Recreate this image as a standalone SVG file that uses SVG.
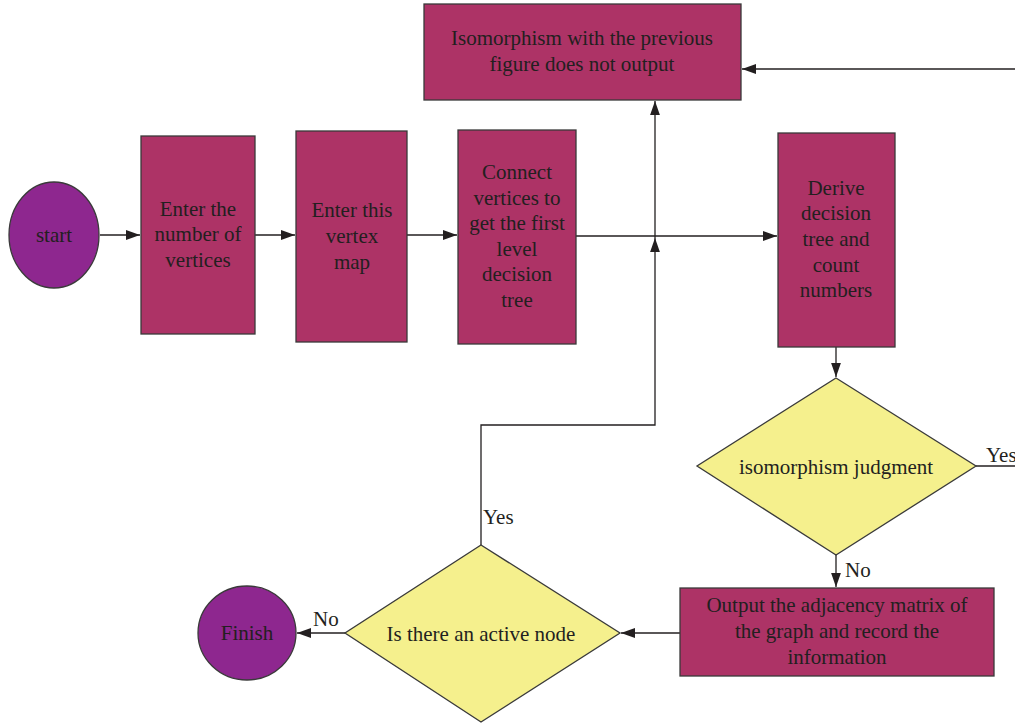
<svg xmlns="http://www.w3.org/2000/svg" width="1015" height="725" viewBox="0 0 1015 725">
<defs>
<style>
.box{fill:#AD3366;stroke:#3a3a3a;stroke-width:1.3}
.ell{fill:#8E278F;stroke:#3a3a3a;stroke-width:1.3}
.dia{fill:#F5F08D;stroke:#3a3a3a;stroke-width:1.3}
text{font-family:"Liberation Serif","DejaVu Serif",serif;font-size:21px;fill:#231F20;text-anchor:middle}
.lbl{text-anchor:start}
.c{fill:none;stroke:#231F20;stroke-width:1.3}
</style>
<marker id="ah" viewBox="0 0 10 10" refX="10" refY="5" markerWidth="14" markerHeight="14" markerUnits="userSpaceOnUse" orient="auto">
<path d="M0,1.5 L10,5 L0,8.5 Z" fill="#231F20"/>
</marker>
</defs>
<rect width="1015" height="725" fill="#fff"/>
<g id="connectors">
<line class="c" x1="100" y1="235" x2="140" y2="235" marker-end="url(#ah)"/>
<line class="c" x1="255" y1="235" x2="295" y2="235" marker-end="url(#ah)"/>
<line class="c" x1="407" y1="235" x2="457" y2="235" marker-end="url(#ah)"/>
<line class="c" x1="576" y1="236" x2="777" y2="236" marker-end="url(#ah)"/>
<polyline class="c" points="481,545 481,425 655,425 655,238" marker-end="url(#ah)"/>
<line class="c" x1="655" y1="238" x2="655" y2="101" marker-end="url(#ah)"/>
<line class="c" x1="836" y1="347" x2="836" y2="377" marker-end="url(#ah)"/>
<polyline class="c" points="976,466 1016,466"/>
<line class="c" x1="1016" y1="69" x2="742" y2="69" marker-end="url(#ah)"/>
<line class="c" x1="836" y1="555" x2="836" y2="587" marker-end="url(#ah)"/>
<line class="c" x1="680" y1="633" x2="621" y2="633" marker-end="url(#ah)"/>
<line class="c" x1="345" y1="633" x2="297" y2="633" marker-end="url(#ah)"/>
<text class="lbl" x="483" y="524">Yes</text>
<text class="lbl" x="986" y="462">Yes</text>
<text class="lbl" x="845" y="577">No</text>
<text class="lbl" x="313" y="626">No</text>
</g>
<g id="start">
<ellipse class="ell" cx="54" cy="235" rx="45" ry="53"/>
<text x="54" y="242">start</text>
</g>
<g id="enter-number">
<rect class="box" x="141" y="136" width="114" height="198"/>
<text x="198" y="216">Enter the</text>
<text x="198" y="241">number of</text>
<text x="198" y="267">vertices</text>
</g>
<g id="enter-map">
<rect class="box" x="296" y="131" width="111" height="211"/>
<text x="352" y="217">Enter this</text>
<text x="352" y="243">vertex</text>
<text x="352" y="269">map</text>
</g>
<g id="connect">
<rect class="box" x="458" y="130" width="118" height="214"/>
<text x="517" y="179">Connect</text>
<text x="517" y="205">vertices to</text>
<text x="517" y="230">get the first</text>
<text x="517" y="256">level</text>
<text x="517" y="281">decision</text>
<text x="517" y="307">tree</text>
</g>
<g id="derive">
<rect class="box" x="778" y="133" width="117" height="214"/>
<text x="836" y="195">Derive</text>
<text x="836" y="220">decision</text>
<text x="836" y="246">tree and</text>
<text x="836" y="272">count</text>
<text x="836" y="297">numbers</text>
</g>
<g id="no-output">
<rect class="box" x="424" y="4" width="317" height="96"/>
<text x="582" y="45">Isomorphism with the previous</text>
<text x="582" y="71">figure does not output</text>
</g>
<g id="judgment">
<polygon class="dia" points="836,378 976,466 836,555 697,466"/>
<text x="836" y="474">isomorphism judgment</text>
</g>
<g id="output-matrix">
<rect class="box" x="680" y="588" width="314" height="88"/>
<text x="837" y="612">Output the adjacency matrix of</text>
<text x="837" y="638">the graph and record the</text>
<text x="837" y="664">information</text>
</g>
<g id="active-node">
<polygon class="dia" points="481,545 620,633 481,722 345,633"/>
<text x="481" y="641">Is there an active node</text>
</g>
<g id="finish">
<ellipse class="ell" cx="247" cy="633" rx="49" ry="47"/>
<text x="247" y="640">Finish</text>
</g>
</svg>
